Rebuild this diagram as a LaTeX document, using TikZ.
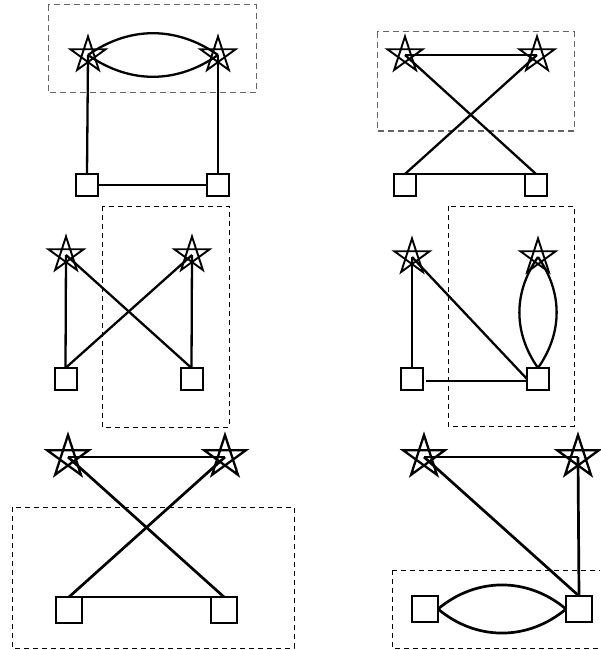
\documentclass[tikz,border=0pt]{standalone}
\usetikzlibrary{calc}
\tikzset{
  edge/.style={line width=2.3pt},
  bigedge/.style={line width=2.7pt},
  starln/.style={line width=1.9pt,line join=miter},
  bigstarln/.style={line width=2.3pt,line join=miter},
  sq/.style={draw,line width=2pt,minimum size=22pt,inner sep=0pt,outer sep=0pt},
  bigsq/.style={draw,line width=2.5pt,minimum size=26pt,inner sep=0pt,outer sep=0pt},
  grpgray/.style={draw=black!60,line width=1pt,dash pattern=on 6pt off 4pt},
  grpblack/.style={draw=black,line width=0.9pt,dash pattern=on 5pt off 4pt},
}
\newcommand{\pstar}[4]{% name, position, radius, style
  \coordinate (#1) at (#2);
  \draw[#4] ($(#1)+(90:#3)$) -- ($(#1)+(234:#3)$) -- ($(#1)+(18:#3)$) -- ($(#1)+(162:#3)$) -- ($(#1)+(306:#3)$) -- cycle;
}
\begin{document}
\begin{tikzpicture}[x=1pt,y=-1pt]
\useasboundingbox (0,0) rectangle (601,650);

% ---------- Panel 1 ----------
\draw[grpgray] (48,5) rectangle (256,93);
\pstar{p1a}{88,55}{18.5pt}{starln}
\pstar{p1b}{218,55}{18.5pt}{starln}
\node[sq] (p1c) at (87,185) {};
\node[sq] (p1d) at (218,185) {};
\draw[edge] (p1a) to[bend left=35] (p1b);
\draw[edge] (p1a) to[bend right=35] (p1b);
\draw[edge] (p1a) -- (p1c.north);
\draw[edge] (p1b) -- (p1d.north);
\draw[edge] (p1c) -- (p1d);

% ---------- Panel 2 ----------
\draw[grpgray] (377,32) rectangle (574,131);
\pstar{p2a}{405,55}{18.5pt}{starln}
\pstar{p2b}{537,55}{18.5pt}{starln}
\node[sq] (p2c) at (405,185) {};
\node[sq] (p2d) at (536,185) {};
\draw[edge] (p2a) -- (p2b);
\draw[edge] (p2a) -- (p2d.north);
\draw[edge] (p2b) -- (p2c.north);
\draw[edge] (p2c.north east) -- (p2d.north west);

% ---------- Panel 3 ----------
\draw[grpblack] (102,206) rectangle (229,427);
\pstar{p3a}{66,255}{18.5pt}{starln}
\pstar{p3b}{192,255}{18.5pt}{starln}
\node[sq] (p3c) at (65.5,379) {};
\node[sq] (p3d) at (191.5,379) {};
\draw[edge] (p3a) -- (p3c.north);
\draw[edge] (p3b) -- (p3d.north);
\draw[edge] (p3a) -- (p3d.north);
\draw[edge] (p3b) -- (p3c.north);

% ---------- Panel 4 ----------
\draw[grpblack] (448,206) rectangle (574,426);
\pstar{p4a}{412,257}{18.5pt}{starln}
\pstar{p4b}{538,257}{18.5pt}{starln}
\node[sq] (p4c) at (412,379) {};
\node[sq] (p4d) at (538,379) {};
\draw[edge] (p4a) -- (p4c.north);
\draw[edge] (p4a) -- (p4d.west);
\draw[edge] ([xshift=3pt,yshift=-2pt]p4c.east) -- ([yshift=-2pt]p4d.west);
\draw[edge] (p4b) to[bend left=35] (p4d.north);
\draw[edge] (p4b) to[bend right=35] (p4d.north);

% ---------- Panel 5 ----------
\draw[grpblack] (12,507) rectangle (294,648);
\pstar{p5a}{68,457}{22pt}{bigstarln}
\pstar{p5b}{225,457}{22pt}{bigstarln}
\node[bigsq] (p5c) at (69,610) {};
\node[bigsq] (p5d) at (224,610) {};
\draw[bigedge] (p5a) -- (p5b);
\draw[bigedge] (p5a) -- (p5d.north);
\draw[bigedge] (p5b) -- (p5c.north);
\draw[bigedge] (p5c.north east) -- (p5d.north west);

% ---------- Panel 6 ----------
\draw[grpblack] (392,570) -- (600,570);
\draw[grpblack] (392,570) -- (392,648) -- (600,648);
\pstar{p6a}{424,457}{22pt}{bigstarln}
\pstar{p6b}{578,457}{22pt}{bigstarln}
\node[bigsq] (p6c) at (425,609) {};
\node[bigsq] (p6d) at (579,609) {};
\draw[bigedge] (p6a) -- (p6b);
\draw[bigedge] (p6b) -- (p6d.north);
\draw[bigedge] (p6a) -- (p6d.north);
\draw[bigedge] (p6c.east) to[bend left=40] (p6d.west);
\draw[bigedge] (p6c.east) to[bend right=40] (p6d.west);
\end{tikzpicture}
\end{document}
